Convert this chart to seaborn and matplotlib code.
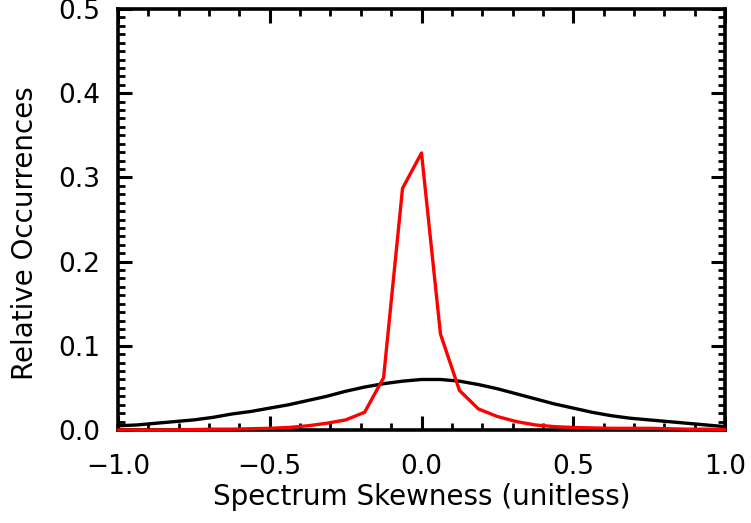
import numpy as np
import pandas as pd
import matplotlib
matplotlib.use("Agg")
import matplotlib.pyplot as plt
import seaborn as sns
from matplotlib.ticker import MultipleLocator, FixedLocator

# ---- data ----
skewness = [-1.0, -0.9375, -0.875, -0.8125, -0.75, -0.6875, -0.625, -0.5625,
            -0.5, -0.4375, -0.375, -0.3125, -0.25, -0.1875, -0.125, -0.0625,
            0.0, 0.0625, 0.125, 0.1875, 0.25, 0.3125, 0.375, 0.4375,
            0.5, 0.5625, 0.625, 0.6875, 0.75, 0.8125, 0.875, 0.9375, 1.0]

black_occ = [0.005, 0.006, 0.008, 0.010, 0.012, 0.015, 0.019, 0.022,
             0.026, 0.030, 0.035, 0.040, 0.046, 0.051, 0.055, 0.058,
             0.060, 0.060, 0.058, 0.054, 0.049, 0.043, 0.037, 0.031,
             0.026, 0.021, 0.017, 0.014, 0.012, 0.010, 0.008, 0.006, 0.004]

red_occ = [0.0, 0.0, 0.0, 0.0, 0.0005, 0.001, 0.001, 0.0015,
           0.002, 0.003, 0.005, 0.008, 0.012, 0.021, 0.062, 0.287,
           0.329, 0.114, 0.047, 0.025, 0.016, 0.010, 0.006, 0.004,
           0.003, 0.0025, 0.002, 0.002, 0.002, 0.0015, 0.001, 0.001, 0.0005]

x_ticks = [-1.0, -0.5, 0.0, 0.5, 1.0]
x_ticklabels = ["\u22121.0", "\u22120.5", "0.0", "0.5", "1.0"]
y_ticks = [0.0, 0.1, 0.2, 0.3, 0.4, 0.5]
y_ticklabels = ["0.0", "0.1", "0.2", "0.3", "0.4", "0.5"]

sns.set_style("white")
plt.rcParams["font.family"] = ["DejaVu Sans"]
plt.rcParams["text.color"] = "black"
plt.rcParams["axes.labelcolor"] = "black"
plt.rcParams["xtick.color"] = "black"
plt.rcParams["ytick.color"] = "black"

df = pd.DataFrame({"x": skewness, "black": black_occ, "red": red_occ})

fig = plt.figure(figsize=(7.51, 5.23), dpi=100)
ax = fig.add_axes([118 / 751, 1 - 430 / 523, (725 - 118) / 751, (430 - 9) / 523])

sns.lineplot(data=df, x="x", y="black", ax=ax, color="black", linewidth=2.4,
             clip_on=False, zorder=3)
sns.lineplot(data=df, x="x", y="red", ax=ax, color="#ff0000", linewidth=2.4,
             clip_on=False, zorder=4)

ax.set_xlim(-1.0, 1.0)
ax.set_ylim(0.0, 0.5)

ax.xaxis.set_major_locator(FixedLocator(x_ticks))
ax.set_xticklabels(x_ticklabels)
ax.yaxis.set_major_locator(FixedLocator(y_ticks))
ax.set_yticklabels(y_ticklabels)
ax.xaxis.set_minor_locator(MultipleLocator(0.1))
ax.yaxis.set_minor_locator(MultipleLocator(0.01))

ax.tick_params(which="both", direction="in", top=True, right=True,
               bottom=True, left=True, color="black", labelcolor="black")
ax.tick_params(which="major", length=10, width=2.2, labelsize=19)
ax.tick_params(which="minor", length=5, width=2.0)
ax.tick_params(axis="x", which="major", pad=17)
ax.tick_params(axis="y", which="major", pad=13)

for sp in ax.spines.values():
    sp.set_visible(True)
    sp.set_color("black")
    sp.set_linewidth(2.6)

ax.set_xlabel("Spectrum Skewness (unitless)", fontsize=20, labelpad=2.5)
ax.set_ylabel("Relative Occurrences", fontsize=20)
ax.yaxis.set_label_coords(-0.130, 0.468)

fig.savefig("out.png", dpi=100, facecolor="white")
